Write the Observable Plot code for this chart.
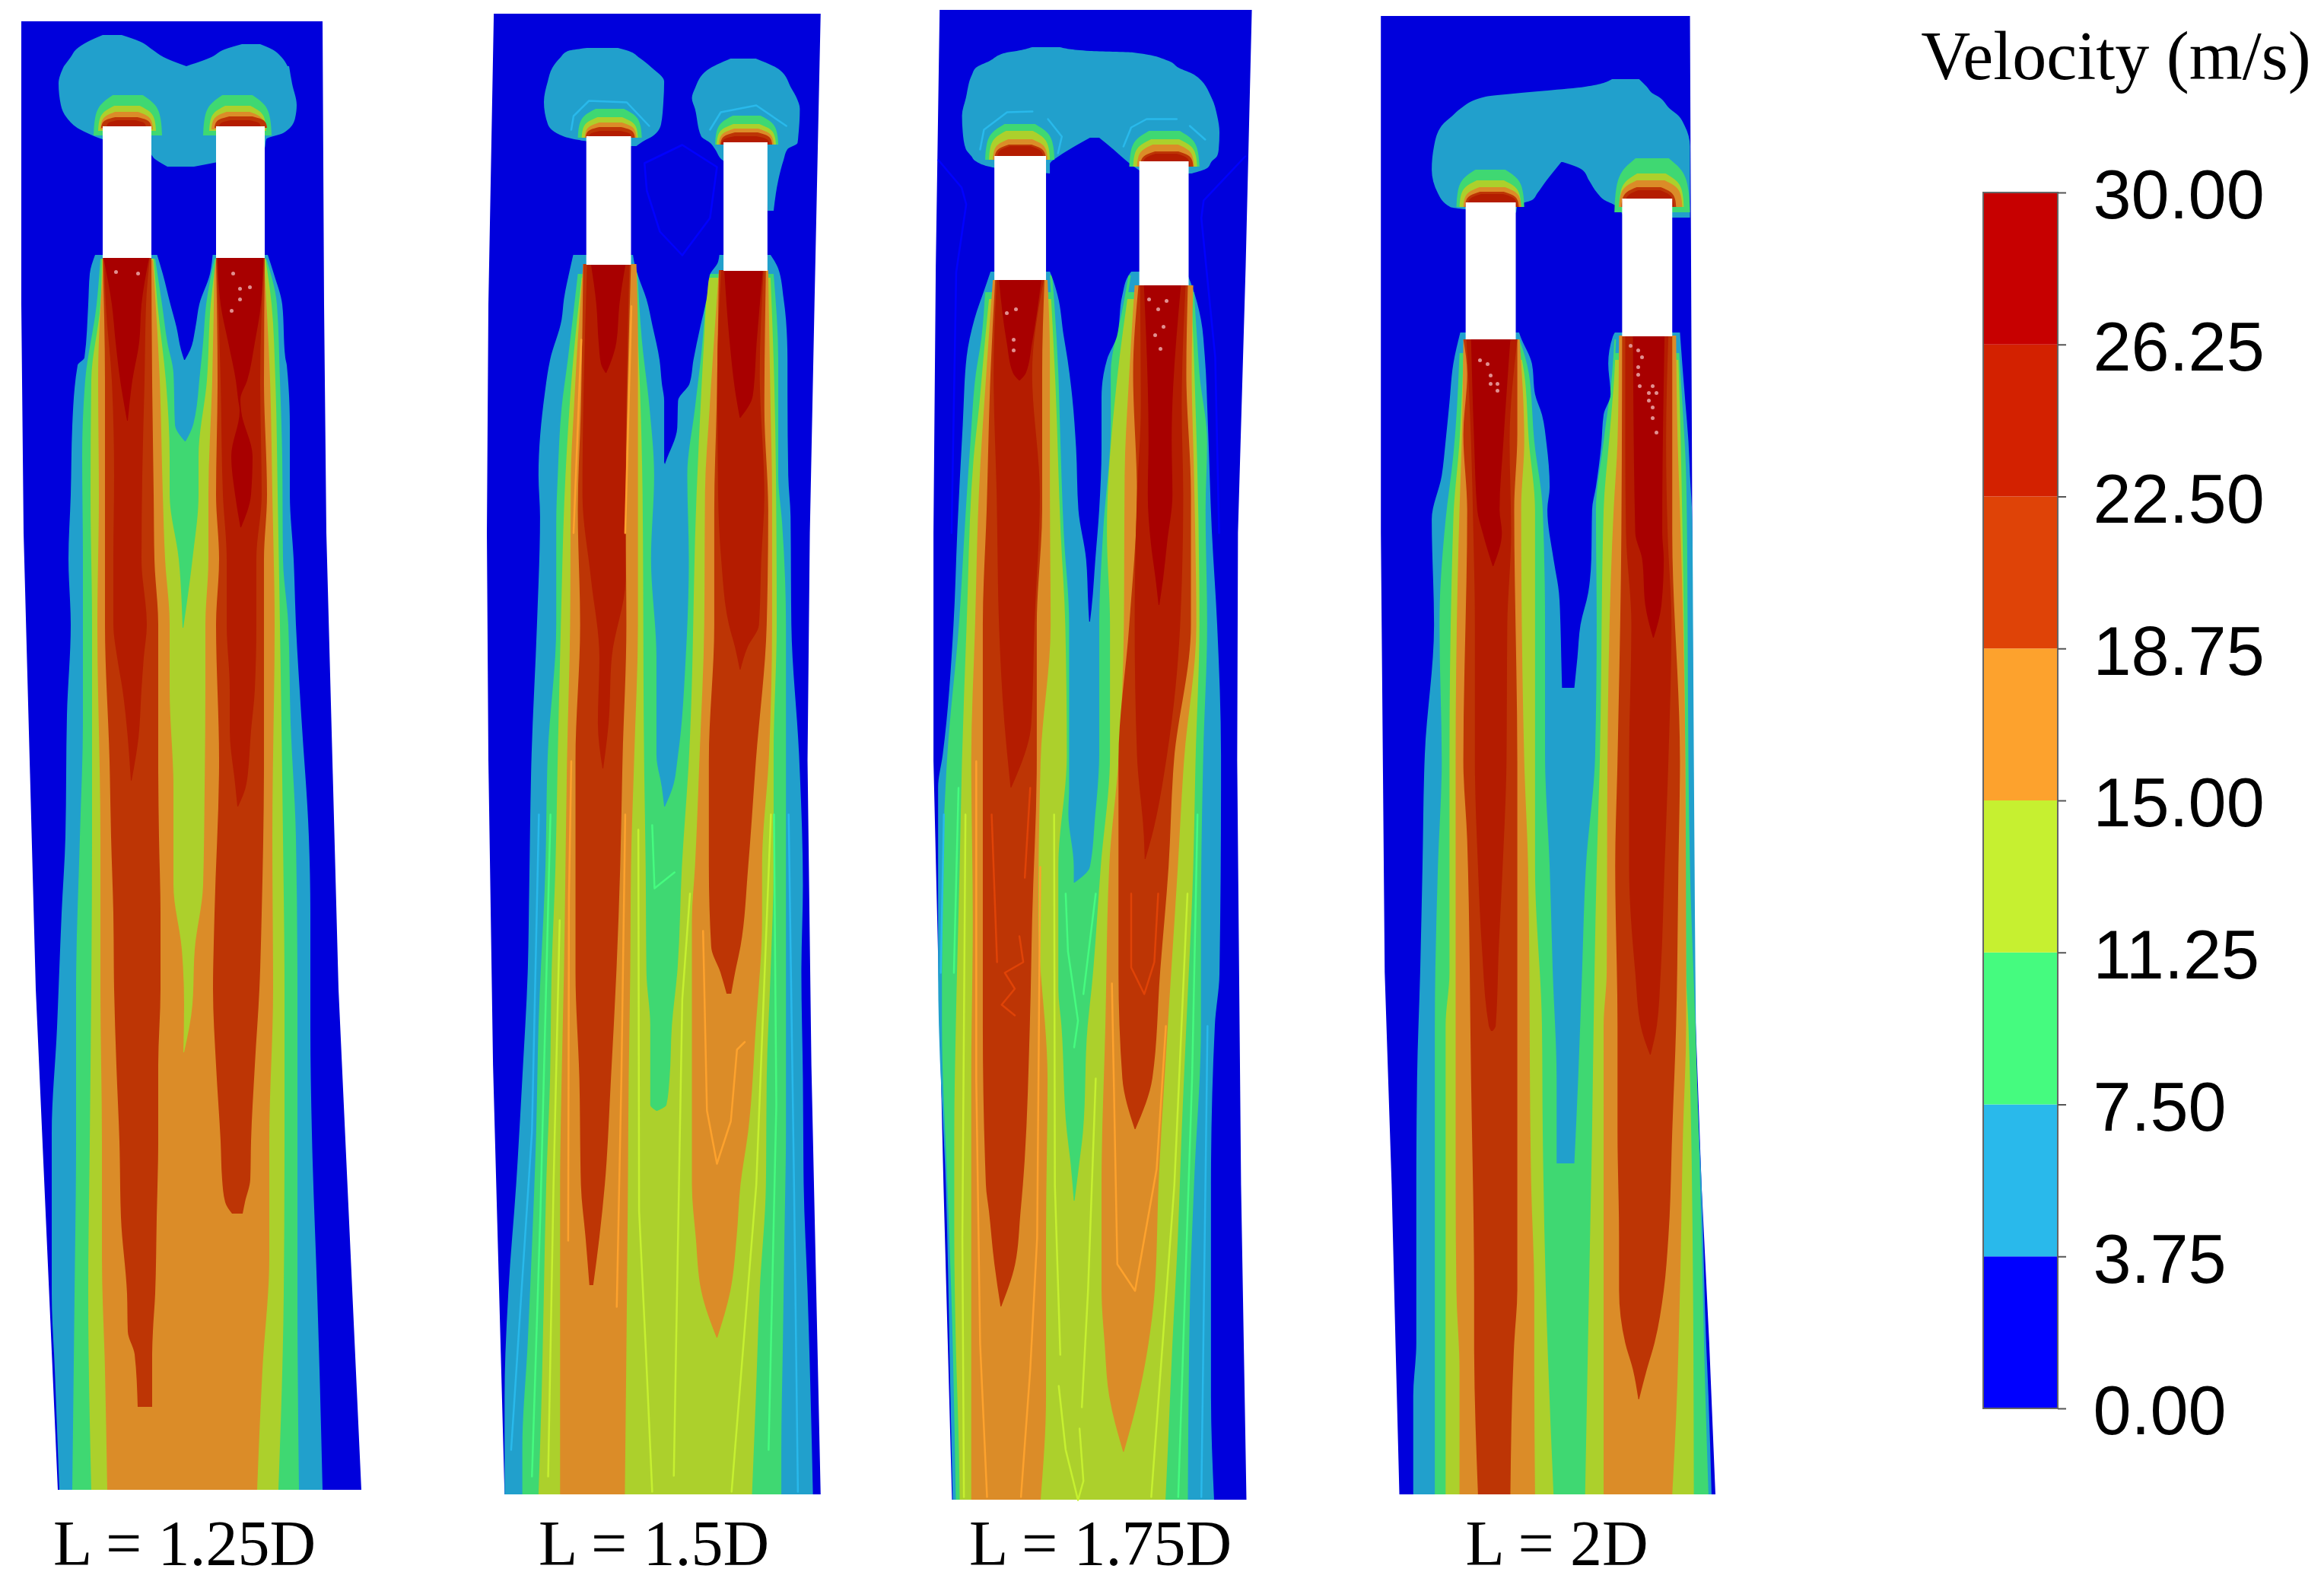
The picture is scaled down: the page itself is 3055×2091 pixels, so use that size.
<!DOCTYPE html>
<html>
<head>
<meta charset="utf-8">
<script src="https://cdn.jsdelivr.net/npm/d3@7"></script>
<script src="https://cdn.jsdelivr.net/npm/@observablehq/plot@0.6"></script>
<style>html,body{margin:0;padding:0;background:#fff}svg{display:block}</style>
</head>
<body>
<div id="chart"></div>
<script>
// Velocity bands of the colour bar
const bandEdges = [0, 3.75, 7.5, 11.25, 15, 18.75, 22.5, 26.25, 30];
const tickLabels = ["0.00","3.75","7.50","11.25","15.00","18.75","22.50","26.25","30.00"];
const legendColors = ["#0000ff","#29b9eb","#45fb7f","#c6f030","#fda22d","#df4307","#d32100","#c70000"];
const fieldColors  = ["#0000dc","#21a0cc","#3fd872","#acd02c","#db8c28","#bd3505","#b41c00","#a80000"];
const panelLabels = ["L = 1.25D","L = 1.5D","L = 1.75D","L = 2D"];
const labelX = [242, 859, 1446, 2046];

// Domain outlines: [y, left x, right x]
const outline1 = [[28,28,424],[400,28,426],[700,31,429],[1300,47,445],[1958,76,475]];
const outline2 = [[18,649,1073],[400,642,1065],[700,640,1059],[1000,642,1056],[1400,648,1061],[1964,663,1073]];
const outline3 = [[13,1235,1640],[350,1230,1632],[700,1227,1622],[1000,1227,1621],[1557,1240,1626],[1971,1251,1633]];
const outline4 = [[21,1815,2216],[700,1815,2219],[1278,1820,2221],[1557,1829,2231],[1765,1834,2241],[1964,1839,2249]];

// Chimney openings: [x1, x2, y1, y2]
const stacks = [[135,199,166,339],[284,348,166,339],[769,827,179,348],[947,1004,187,356],[1306,1373,205,368],[1494,1558,212,375],[1925,1990,266,446],[2128,2193,261,442]];

// Outer plumes at the top: [level, rows of y, x1, x2]
const heads = [
 [1,[[46,135,160],[55,115,185],[65,100,200],[75,93,215],[87,84,245]]],
 [1,[[58,318,342],[65,295,358],[75,278,370],[87,245,378]]],
 [1,[[87,84,380],[110,77,384],[138,80,390],[155,88,388],[170,105,379],[175,115,372],[183,135,350],[195,190,348],[210,205,300],[219,220,255]]],
 [1,[[63,770,810],[67,745,824],[76,735,838],[89,725,854],[107,719,870],[134,714,869],[163,719,866],[179,739,855],[185,765,844],[192,825,834]]],
 [1,[[77,956,989],[92,926,1020],[116,910,1035],[129,906,1042],[143,910,1046],[179,918,1044],[188,930,1043],[196,936,1030],[210,945,1025],[237,1000,1018],[277,1004,1012]]],
 [1,[[62,1355,1391],[67,1335,1430],[69,1322,1486],[80,1300,1532],[89,1282,1545],[98,1277,1565],[129,1269,1588],[152,1264,1595],[174,1265,1598],[196,1269,1597],[205,1276,1595],[212,1282,1588],[221,1310,1582],[228,1378,1562]]],
 [0,[[181,1430,1442],[196,1404,1460],[205,1390,1470],[216,1378,1483],[228,1378,1500]]],
 [1,[[104,2115,2150],[114,2080,2160],[123,1987,2168],[127,1951,2175],[143,1918,2190],[152,1908,2201],[165,1894,2209],[192,1884,2216],[223,1881,2216],[254,1889,2216],[272,1905,2216],[275,1925,2216],[286,2130,2216]]],
 [0,[[213,2049,2051],[223,2041,2076],[237,2030,2085],[254,2018,2096],[263,2011,2105],[270,1992,2119],[286,1990,2130]]]
];

// Domes over each opening: [level, top y, bottom y, x1, x2]
const domes = [
 [2,125,178,123,213],[3,139,172,129,205],[4,147,170,132,201],[5,154,168,133,199],[6,158,167,140,192],
 [2,125,178,267,357],[3,139,172,275,350],[4,147,170,278,348],[5,153,168,282,351],[6,158,167,288,343],
 [2,143,181,758,841],[3,154,181,763,836],[4,161,181,767,834],[5,167,181,768,832],[6,172,181,772,828],
 [2,152,190,936,1018],[3,163,190,938,1015],[4,169,190,941,1012],[5,174,190,943,1010],[6,179,190,944,1007],
 [2,163,210,1294,1384],[3,172,210,1299,1378],[4,183,210,1304,1375],[5,190,210,1306,1373],[6,192,210,1309,1370],
 [2,172,219,1481,1572],[3,183,219,1486,1569],[4,190,219,1491,1565],[5,199,219,1495,1564],[6,202,219,1498,1560],
 [2,223,272,1913,2001],[3,237,272,1917,1997],[4,246,272,1922,1997],[5,252,272,1924,1994],[6,255,272,1927,1992],
 [2,208,279,2118,2216],[3,228,272,2124,2208],[4,237,272,2124,2206],[5,246,272,2127,2198],[6,250,272,2131,2195]
];

// Jets, L = 1.25D, painted in order: [level, rows of y, x1, x2]
const jets1 = [
 [1,[[335,125,352],[360,118,360],[400,116,371],[470,111,375],[480,102,377],[560,95,381],[650,93,381],[735,90,386],[821,93,389],[940,88,396],[1100,86,406],[1200,81,408],[1300,77,408],[1350,75,408],[1490,68,410],[1700,68,417],[1800,72,420],[1958,78,424]]],
 [2,[[340,132,350],[400,127,364],[500,112,368],[600,108,371],[735,109,372],[821,109,379],[950,109,382],[1100,105,389],[1300,100,391],[1500,100,391],[1700,98,391],[1958,95,393]]],
 [3,[[340,134,349],[400,132,357],[500,120,362],[650,119,365],[821,121,368],[1100,121,372],[1300,120,374],[1500,118,374],[1700,116,373],[1958,120,366]]],
 [4,[[342,136,347],[500,129,355],[650,130,358],[821,128,361],[1100,132,358],[1300,132,359],[1500,134,354],[1653,134,354],[1800,138,345],[1958,141,338]]],
 [3,[[342,201,282],[500,210,279],[650,214,274],[735,217,274],[821,223,270],[906,223,270],[1035,228,269],[1163,228,267],[1248,239,256],[1320,242,253],[1383,241,242]]],
 [2,[[340,202,284],[400,207,277],[500,218,272],[600,223,261],[650,223,261],[735,235,253],[825,240,241]]],
 [1,[[340,204,282],[400,213,271],[450,220,267],[490,228,263],[558,230,254],[580,243,244]]],
 [0,[[330,205,280],[360,214,276],[400,224,262],[430,232,257],[460,238,250],[473,242,243]]],
 [5,[[339,135,199],[500,138,200],[650,138,202],[735,138,203],[821,138,208],[1000,144,208],[1100,146,209],[1200,149,211],[1300,150,211],[1400,153,208],[1500,157,208],[1600,159,206],[1700,167,204],[1750,168,201],[1780,177,200],[1849,181,200]]],
 [5,[[339,284,348],[500,286,347],[650,284,351],[735,288,347],[821,284,347],[1000,288,347],[1200,282,344],[1300,280,341],[1400,284,335],[1500,290,330],[1550,292,329],[1580,296,322],[1595,305,319]]],
 [6,[[339,137,197],[400,139,192],[500,147,190],[625,150,187],[735,149,186],[821,149,193],[864,154,189],[906,161,186],[970,168,182],[1026,172,173]]],
 [6,[[339,285,347],[500,290,342],[650,293,344],[735,298,337],[821,298,337],[906,302,335],[960,302,330],[1030,309,324],[1060,312,313]]],
 [7,[[339,136,196],[400,147,186],[450,152,183],[500,158,174],[553,167,168]]],
 [7,[[339,286,346],[400,290,343],[450,300,335],[500,310,325],[525,313,316],[540,315,317],[600,304,332],[650,309,330],[693,316,317]]]
];

// Jets, L = 1.5D
const jets2 = [
 [1,[[335,752,1008],[353,748,1018],[393,740,1025],[420,737,1028],[473,722,1030],[518,715,1030],[625,707,1031],[679,709,1034],[821,705,1035],[992,698,1045],[1163,695,1050],[1278,693,1048],[1417,686,1050],[1557,678,1051],[1696,668,1056],[1835,663,1060],[1964,663,1063]]],
 [2,[[360,758,1012],[473,745,1018],[536,737,1018],[625,732,1018],[687,730,1023],[821,730,1028],[992,719,1028],[1139,716,1028],[1348,707,1028],[1487,704,1028],[1626,699,1026],[1765,693,1024],[1905,686,1022],[1964,686,1022]]],
 [3,[[365,763,1008],[473,752,1012],[625,742,1015],[821,736,1016],[992,732,1012],[1139,729,1012],[1278,724,1008],[1417,722,1003],[1557,717,1002],[1696,714,994],[1835,711,989],[1964,707,984]]],
 [2,[[350,832,927],[650,842,912],[1000,844,902],[1139,846,893],[1278,847,887],[1348,852,880],[1417,852,877],[1452,852,873],[1460,860,861]]],
 [1,[[350,835,925],[446,841,920],[536,851,910],[625,857,900],[735,853,902],[864,860,898],[992,860,888],[1035,867,881],[1060,870,871]]],
 [0,[[330,829,942],[344,831,940],[362,836,929],[393,847,925],[429,855,917],[473,864,908],[504,867,903],[527,870,888],[562,870,887],[607,870,872],[610,871,871]]],
 [4,[[347,765,834],[446,758,836],[536,753,836],[625,749,836],[821,748,836],[1000,744,831],[1139,742,827],[1278,740,826],[1417,737,824],[1557,735,823],[1964,735,819]]],
 [4,[[355,941,1005],[536,929,1008],[647,923,1010],[821,922,1010],[992,916,1006],[1139,910,997],[1209,906,997],[1348,906,989],[1487,906,979],[1557,906,969],[1626,911,964],[1696,918,956],[1758,938,939]]],
 [5,[[347,765,827],[536,762,822],[670,758,820],[821,761,821],[1000,755,816],[1139,755,813],[1278,755,808],[1417,760,801],[1557,762,793],[1626,768,786],[1689,773,778]]],
 [5,[[355,941,1002],[536,938,1000],[670,935,1005],[821,935,1003],[1000,928,989],[1139,928,979],[1244,931,969],[1278,943,962],[1306,951,957]]],
 [6,[[347,770,825],[650,764,820],[760,775,820],[864,786,802],[950,784,798],[1010,790,791]]],
 [6,[[355,944,999],[491,939,994],[650,940,1000],[735,944,996],[821,954,993],[851,962,978],[880,968,969]]],
 [7,[[347,775,820],[400,782,812],[450,785,808],[478,788,800],[490,794,795]]],
 [7,[[355,948,998],[450,955,990],[520,963,985],[549,968,969]]]
];

// Jets, L = 1.75D
const jets3 = [
 [1,[[357,1301,1555],[375,1295,1562],[420,1280,1574],[469,1270,1579],[558,1265,1583],[696,1258,1588],[821,1253,1595],[992,1239,1600],[1035,1233,1600],[1280,1233,1598],[1348,1234,1592],[1557,1243,1587],[1835,1249,1587],[1971,1252,1591]]],
 [2,[[384,1294,1565],[446,1289,1569],[491,1282,1572],[580,1275,1582],[670,1269,1580],[821,1260,1582],[992,1245,1577],[1209,1238,1574],[1348,1238,1574],[1557,1245,1565],[1696,1250,1560],[1971,1256,1557]]],
 [3,[[393,1299,1562],[446,1294,1564],[536,1286,1567],[603,1279,1569],[821,1270,1572],[1000,1264,1567],[1139,1261,1564],[1348,1256,1555],[1487,1254,1549],[1626,1254,1544],[1765,1256,1537],[1905,1260,1531],[1971,1261,1528]]],
 [2,[[362,1378,1483],[500,1385,1465],[700,1392,1452],[821,1398,1456],[992,1400,1456],[1139,1389,1444],[1300,1389,1432],[1348,1393,1427],[1487,1400,1421],[1530,1405,1416],[1578,1409,1410]]],
 [1,[[362,1381,1480],[402,1384,1473],[491,1389,1457],[558,1391,1457],[700,1396,1447],[821,1403,1442],[992,1403,1442],[1035,1403,1440],[1069,1402,1437],[1139,1409,1430],[1160,1409,1410]]],
 [0,[[350,1375,1490],[362,1380,1480],[388,1388,1472],[442,1396,1465],[473,1401,1452],[522,1407,1445],[589,1412,1445],[670,1415,1442],[735,1425,1437],[800,1428,1432],[817,1429,1430]]],
 [4,[[368,1304,1375],[469,1297,1378],[647,1286,1378],[821,1281,1379],[1000,1276,1366],[1209,1278,1363],[1417,1276,1375],[1626,1276,1373],[1835,1276,1373],[1971,1276,1366]]],
 [4,[[375,1488,1564],[491,1481,1562],[625,1475,1565],[821,1474,1568],[1000,1467,1552],[1139,1455,1544],[1348,1450,1531],[1557,1445,1519],[1696,1445,1514],[1765,1449,1506],[1835,1455,1493],[1908,1473,1474]]],
 [5,[[368,1307,1371],[491,1301,1368],[670,1296,1368],[821,1291,1361],[1000,1291,1361],[1209,1291,1355],[1348,1291,1352],[1557,1295,1343],[1592,1299,1340],[1661,1306,1333],[1717,1314,1315]]],
 [5,[[375,1493,1557],[491,1486,1555],[650,1491,1561],[821,1481,1561],[1000,1467,1539],[1139,1467,1532],[1278,1467,1521],[1417,1472,1511],[1484,1488,1489]]],
 [6,[[368,1309,1370],[491,1305,1355],[650,1309,1365],[821,1312,1358],[950,1319,1354],[1035,1327,1328]]],
 [6,[[375,1495,1554],[536,1496,1549],[650,1491,1551],[821,1488,1547],[992,1491,1530],[1100,1500,1510],[1129,1501,1502]]],
 [7,[[368,1312,1367],[450,1322,1355],[490,1330,1347],[500,1338,1339]]],
 [7,[[375,1500,1548],[580,1506,1536],[650,1505,1537],[714,1509,1530],[760,1515,1525],[795,1519,1520]]]
];

// Jets, L = 2D
const jets4 = [
 [1,[[437,1918,2203],[478,1909,2206],[529,1904,2210],[580,1899,2214],[625,1894,2216],[683,1881,2219],[821,1884,2220],[992,1872,2221],[1139,1869,2222],[1278,1866,2223],[1417,1862,2225],[1557,1861,2231],[1765,1861,2237],[1835,1857,2240],[1964,1857,2244]]],
 [2,[[464,1917,2202],[562,1912,2208],[598,1909,2210],[683,1899,2212],[821,1891,2213],[1000,1894,2214],[1139,1889,2216],[1348,1885,2223],[1626,1885,2231],[1835,1885,2236],[1964,1885,2240]]],
 [3,[[473,1922,2201],[580,1917,2204],[683,1909,2206],[1000,1904,2210],[1278,1904,2211],[1348,1899,2214],[1696,1899,2220],[1964,1899,2221]]],
 [2,[[446,1993,2120],[491,2001,2118],[580,2007,2111],[670,2015,2104],[1000,2015,2099],[1139,2015,2095],[1348,2024,2091],[1487,2025,2089],[1696,2029,2085],[1964,2039,2080]]],
 [1,[[446,1995,2118],[491,2007,2115],[580,2014,2104],[670,2025,2094],[821,2028,2095],[992,2028,2093],[1139,2034,2081],[1278,2038,2076],[1417,2043,2071],[1529,2043,2066]]],
 [0,[[430,1992,2124],[442,1996,2116],[478,2011,2110],[518,2015,2113],[545,2024,2104],[584,2030,2101],[640,2034,2094],[670,2031,2089],[735,2039,2088],[779,2046,2084],[821,2048,2074],[864,2049,2070],[904,2050,2066]]],
 [4,[[446,1922,1995],[580,1920,2001],[670,1917,1997],[1000,1912,2001],[1139,1912,2006],[1557,1912,2010],[1696,1913,2014],[1800,1917,2014],[1964,1917,2015]]],
 [4,[[441,2124,2198],[580,2122,2200],[670,2117,2203],[1000,2109,2210],[1278,2108,2211],[1348,2104,2211],[1487,2104,2207],[1696,2104,2203],[1863,2104,2198],[1964,2104,2193]]],
 [5,[[446,1922,1992],[491,1927,1992],[571,1922,1992],[670,1927,1988],[1000,1922,1992],[1104,1927,1992],[1417,1932,1992],[1696,1936,1992],[1765,1936,1988],[1964,1941,1983]]],
 [5,[[441,2128,2193],[700,2127,2193],[1000,2122,2203],[1139,2119,2201],[1348,2122,2198],[1487,2122,2193],[1626,2124,2188],[1696,2124,2182],[1765,2132,2170],[1800,2142,2160],[1839,2149,2150]]],
 [6,[[446,1926,1992],[580,1932,1982],[700,1935,1984],[821,1937,1979],[1000,1937,1978],[1139,1941,1973],[1244,1946,1968],[1348,1955,1964],[1355,1958,1960]]],
 [6,[[441,2132,2188],[580,2132,2185],[700,2133,2187],[821,2140,2192],[1000,2137,2188],[1139,2137,2183],[1278,2145,2178],[1348,2152,2173],[1386,2164,2165]]],
 [7,[[446,1932,1983],[580,1936,1974],[670,1940,1969],[700,1947,1972],[744,1960,1961]]],
 [7,[[441,2142,2183],[700,2145,2180],[735,2154,2182],[795,2158,2179],[838,2168,2169]]]
];

// Thin lighter contour traces: [level, points of x, y]
const traces = [
 [0,[[844,214],[893,190],[938,219],[929,286],[893,335],[864,304],[847,250],[844,214]]],
 [1,[[749,170],[752,152],[772,132],[821,134],[850,165]]],
 [1,[[929,170],[943,147],[989,138],[1028,165]]],
 [1,[[707,1070],[698,1487],[671,1905]]],
 [1,[[1031,1070],[1038,1557],[1043,1960]]],
 [2,[[722,1070],[709,1592],[698,1940]]],
 [2,[[1012,1070],[1015,1452],[1005,1905]]],
 [2,[[854,1084],[857,1167],[883,1146]]],
 [3,[[836,1090],[837,1591],[846,1780],[854,1960]]],
 [3,[[903,1174],[893,1313],[882,1939]]],
 [3,[[734,1209],[726,1557],[719,1940]]],
 [3,[[1008,1070],[989,1557],[957,1960]]],
 [4,[[749,1000],[746,1180],[745,1630]]],
 [4,[[819,1070],[814,1417],[808,1717]]],
 [4,[[920,1223],[925,1459],[938,1529],[956,1473],[964,1379],[974,1369]]],
 [4,[[827,402],[819,700]]],
 [4,[[762,446],[752,700]]],
 [0,[[1233,210],[1263,246],[1269,268],[1256,357],[1250,700]]],
 [0,[[1631,205],[1577,263],[1574,286],[1592,469],[1597,700]]],
 [1,[[1287,196],[1292,170],[1322,147],[1355,146]]],
 [1,[[1375,156],[1393,179],[1388,201]]],
 [1,[[1473,192],[1483,167],[1503,156],[1542,156]]],
 [1,[[1559,165],[1579,183]]],
 [1,[[1240,1070],[1236,1278]]],
 [1,[[1582,1348],[1574,1967]]],
 [2,[[1259,1035],[1253,1278]]],
 [2,[[1398,1174],[1401,1250],[1414,1341],[1409,1376]]],
 [2,[[1437,1174],[1421,1306]]],
 [2,[[1569,1070],[1562,1417],[1544,1967]]],
 [3,[[1268,1070],[1264,1626],[1266,1967]]],
 [3,[[1383,1070],[1384,1557],[1391,1780]]],
 [3,[[1437,1417],[1427,1696],[1419,1849]]],
 [3,[[1389,1821],[1398,1905],[1414,1971],[1421,1946],[1416,1877]]],
 [3,[[1556,1174],[1539,1557],[1509,1967]]],
 [4,[[1282,1000],[1282,1417],[1287,1765],[1296,1967]]],
 [4,[[1365,1139],[1361,1626],[1352,1800],[1340,1967]]],
 [4,[[1458,1292],[1465,1661],[1488,1696],[1516,1536],[1528,1348]]],
 [5,[[1302,1070],[1309,1264]]],
 [5,[[1352,1035],[1345,1153]]],
 [5,[[1483,1174],[1483,1271],[1500,1306],[1513,1264],[1518,1174]]],
 [5,[[1338,1230],[1343,1264],[1319,1278],[1332,1299],[1315,1320],[1332,1334]]]
];

// Pale specks near the jet roots: [x, y]
const specks = [
 [152,357],[181,359],[315,379],[315,393],[328,377],[304,408],[306,359],
 [1323,411],[1335,406],[1332,446],[1332,460],[1510,393],[1533,395],[1522,406],[1518,440],[1529,429],[1525,458],
 [1945,473],[1955,478],[1959,493],[1959,504],[1968,504],[1968,513],
 [2143,454],[2153,460],[2158,469],[2153,482],[2153,492],[2155,507],[2172,507],[2167,516],[2177,516],[2167,526],[2172,535],[2172,549],[2177,568]
];

// ---- table building
// Calibration of values read from the 3x crops of the right-hand panels
const calib = x => {
  const k = 3.04 / 3;
  if (x < 600) return x;
  if (x < 1150) return 640 + (x - 640) * k;
  if (x < 1750) return 1220 + (x - 1220) * k;
  return 1800 + (x - 1800) * k;
};
const domeRows = ([, top, bottom, x1, x2]) => {
  const w = x2 - x1, h = bottom - top;
  return [[top, x1 + .28*w, x2 - .28*w],[top + .25*h, x1 + .1*w, x2 - .1*w],[top + .6*h, x1 + .02*w, x2 - .02*w],[bottom, x1, x2]];
};
let sid = 0;
const toRows = (level, rows) => { const id = sid++; return rows.map(([y,x1,x2]) => ({id, y, x1: calib(x1), x2: calib(x2), color: fieldColors[level]})); };

const areaRows = [
  ...[outline1,outline2,outline3,outline4].flatMap(r => toRows(0, r)),
  ...heads.flatMap(([l,r]) => toRows(l, r)),
  ...domes.flatMap(d => toRows(d[0], domeRows(d))),
  ...[jets1,jets2,jets3,jets4].flatMap(js => js.flatMap(([l,r]) => toRows(l, r)))
];
const outlineCount = [outline1,outline2,outline3,outline4].reduce((n,r)=>n+r.length,0);
const outlineRows = areaRows.slice(0, outlineCount);
const fieldRows = areaRows.slice(outlineCount);

const traceRows = traces.flatMap(([l,pts], i) => pts.map(([x,y]) => ({i, x: calib(x), y, color: legendColors[l]})));
const stackRows = stacks.map(([x1,x2,y1,y2]) => ({x1: calib(x1), x2: calib(x2), y1, y2}));
const speckRows = specks.map(([x,y]) => ({x, y}));

// Colour bar: velocity to vertical position
const barTop = 253, barBottom = 1851, barLeft = 2607, barRight = 2705, tickEnd = 2716;
const barY = v => barBottom - (v / 30) * (barBottom - barTop);
const barRows = legendColors.map((c,i) => ({y1: barY(bandEdges[i]), y2: barY(bandEdges[i+1]), c}));
const tickRows = bandEdges.map((v,i) => ({y: barY(v), label: tickLabels[i]}));
const labelRows = panelLabels.map((t,i) => ({t, x: labelX[i]}));

const chart = Plot.plot({
  width: 3055, height: 2091,
  margin: 0, marginTop: 0, marginRight: 0, marginBottom: 0, marginLeft: 0,
  x: {domain: [0, 3055], range: [0, 3055], axis: null},
  y: {domain: [0, 2091], range: [0, 2091], axis: null},
  style: {background: "#fff"},
  marks: [
    Plot.areaX(outlineRows, {y: "y", x1: "x1", x2: "x2", z: "id", fill: "color", curve: "linear"}),
    Plot.areaX(fieldRows, {y: "y", x1: "x1", x2: "x2", z: "id", fill: "color", curve: "monotone-y"}),
    Plot.line(traceRows, {x: "x", y: "y", z: "i", stroke: "color", strokeWidth: 2.5, curve: "linear"}),
    Plot.rect(stackRows, {x1: "x1", x2: "x2", y1: "y1", y2: "y2", fill: "#fff"}),
    Plot.dot(speckRows, {x: "x", y: "y", r: 2.5, fill: "#e09090"}),
    Plot.rect(barRows, {x1: barLeft, x2: barRight, y1: "y1", y2: "y2", fill: "c"}),
    Plot.rect([{y1: barTop, y2: barBottom}], {x1: barLeft, x2: barRight, y1: "y1", y2: "y2", fill: "none", stroke: "#666", strokeWidth: 2}),
    Plot.ruleY(tickRows, {y: "y", x1: barRight, x2: tickEnd, stroke: "#555", strokeWidth: 2}),
    Plot.text(tickRows, {x: 2751, y: d => d.y + 5, text: "label", textAnchor: "start", lineAnchor: "middle", fontFamily: "Liberation Sans", fontSize: 90, fill: "#000"}),
    Plot.text(labelRows, {x: "x", y: 2056, text: "t", textAnchor: "middle", lineAnchor: "bottom", fontFamily: "Liberation Serif", fontSize: 84, fill: "#000"}),
    Plot.text(["Velocity (m/s)"], {x: 2781, y: 103, text: d => d, textAnchor: "middle", lineAnchor: "bottom", fontFamily: "Liberation Serif", fontSize: 90, fill: "#000"})
  ]
});
document.getElementById("chart").append(chart);
</script>
</body>
</html>
